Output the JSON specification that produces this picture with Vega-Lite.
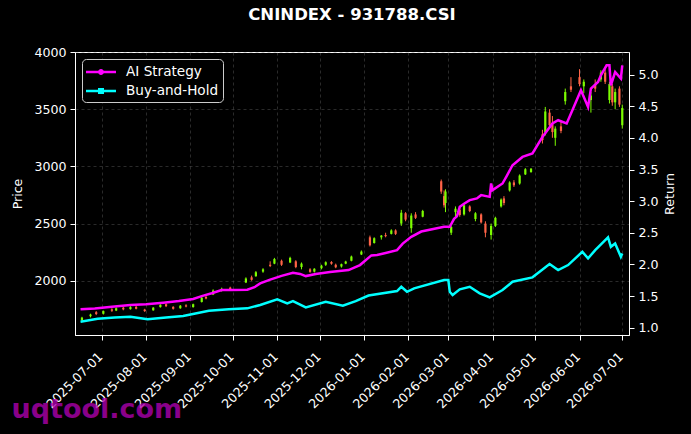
{
  "$schema": "https://vega.github.io/schema/vega-lite/v6.json",
  "width": 554,
  "height": 283,
  "autosize": "none",
  "padding": {"left": 75, "top": 52, "right": 62, "bottom": 99},
  "background": "#000000",
  "title": {
    "text": "CNINDEX - 931788.CSI",
    "color": "white",
    "font": "DejaVu Sans",
    "fontSize": 16.5,
    "fontWeight": "bold",
    "offset": 23
  },
  "config": {
    "font": "DejaVu Sans",
    "view": {"stroke": "white", "strokeWidth": 1},
    "axis": {
      "domainColor": "white",
      "tickColor": "white",
      "tickSize": 5,
      "labelColor": "white",
      "labelFontSize": 12.6,
      "labelPadding": 4,
      "titleColor": "white",
      "titleFontSize": 12.6,
      "titleFontWeight": "normal",
      "gridColor": "#808080",
      "gridOpacity": 0.55,
      "gridDash": [3, 3],
      "gridWidth": 0.6
    }
  },
  "datasets": {
    "ohlc": [
      {"date": "2025-06-17", "open": 1655, "high": 1685, "low": 1645, "close": 1678},
      {"date": "2025-06-23", "open": 1690, "high": 1712, "low": 1680, "close": 1705},
      {"date": "2025-06-27", "open": 1725, "high": 1735, "low": 1700, "close": 1710},
      {"date": "2025-07-02", "open": 1712, "high": 1740, "low": 1705, "close": 1735},
      {"date": "2025-07-08", "open": 1750, "high": 1760, "low": 1728, "close": 1738},
      {"date": "2025-07-11", "open": 1740, "high": 1768, "low": 1735, "close": 1760},
      {"date": "2025-07-16", "open": 1765, "high": 1772, "low": 1742, "close": 1750},
      {"date": "2025-07-21", "open": 1752, "high": 1778, "low": 1748, "close": 1770},
      {"date": "2025-07-25", "open": 1772, "high": 1780, "low": 1750, "close": 1755},
      {"date": "2025-07-31", "open": 1748, "high": 1755, "low": 1728, "close": 1735},
      {"date": "2025-08-06", "open": 1742, "high": 1770, "low": 1738, "close": 1765},
      {"date": "2025-08-11", "open": 1770, "high": 1795, "low": 1765, "close": 1790},
      {"date": "2025-08-15", "open": 1795, "high": 1802, "low": 1770, "close": 1778},
      {"date": "2025-08-20", "open": 1772, "high": 1778, "low": 1748, "close": 1755},
      {"date": "2025-08-25", "open": 1760, "high": 1788, "low": 1755, "close": 1782},
      {"date": "2025-08-29", "open": 1785, "high": 1795, "low": 1768, "close": 1775},
      {"date": "2025-09-03", "open": 1770, "high": 1800, "low": 1765, "close": 1795},
      {"date": "2025-09-09", "open": 1815, "high": 1860, "low": 1810, "close": 1852},
      {"date": "2025-09-12", "open": 1858, "high": 1870, "low": 1838, "close": 1845},
      {"date": "2025-09-17", "open": 1880, "high": 1925, "low": 1875, "close": 1915},
      {"date": "2025-09-23", "open": 1918, "high": 1940, "low": 1905, "close": 1930},
      {"date": "2025-09-29", "open": 1940, "high": 1948, "low": 1918, "close": 1925},
      {"date": "2025-10-10", "open": 1985, "high": 2030, "low": 1980, "close": 2020},
      {"date": "2025-10-14", "open": 2030, "high": 2045, "low": 2000, "close": 2008},
      {"date": "2025-10-17", "open": 2040, "high": 2085, "low": 2035, "close": 2075},
      {"date": "2025-10-22", "open": 2080, "high": 2110, "low": 2070, "close": 2100},
      {"date": "2025-10-27", "open": 2140, "high": 2170, "low": 2120, "close": 2130},
      {"date": "2025-10-30", "open": 2150, "high": 2200, "low": 2145, "close": 2190},
      {"date": "2025-11-04", "open": 2175, "high": 2185, "low": 2130, "close": 2140},
      {"date": "2025-11-10", "open": 2160, "high": 2210, "low": 2155, "close": 2200},
      {"date": "2025-11-14", "open": 2170, "high": 2180, "low": 2110, "close": 2120},
      {"date": "2025-11-18", "open": 2120, "high": 2160, "low": 2100, "close": 2150},
      {"date": "2025-11-24", "open": 2100, "high": 2110, "low": 2070, "close": 2078},
      {"date": "2025-11-27", "open": 2080, "high": 2110, "low": 2072, "close": 2105},
      {"date": "2025-12-02", "open": 2110, "high": 2140, "low": 2100, "close": 2132},
      {"date": "2025-12-05", "open": 2140, "high": 2170, "low": 2130, "close": 2162},
      {"date": "2025-12-09", "open": 2165, "high": 2172, "low": 2140, "close": 2148},
      {"date": "2025-12-12", "open": 2140, "high": 2150, "low": 2110, "close": 2118},
      {"date": "2025-12-16", "open": 2125, "high": 2150, "low": 2115, "close": 2145},
      {"date": "2025-12-19", "open": 2150, "high": 2175, "low": 2145, "close": 2168},
      {"date": "2025-12-23", "open": 2175, "high": 2220, "low": 2170, "close": 2212},
      {"date": "2025-12-30", "open": 2230, "high": 2265, "low": 2225, "close": 2255},
      {"date": "2026-01-05", "open": 2380, "high": 2395, "low": 2300, "close": 2310},
      {"date": "2026-01-08", "open": 2330, "high": 2380, "low": 2325, "close": 2372},
      {"date": "2026-01-13", "open": 2380, "high": 2400, "low": 2360, "close": 2395},
      {"date": "2026-01-16", "open": 2400, "high": 2420, "low": 2380, "close": 2390},
      {"date": "2026-01-20", "open": 2410, "high": 2450, "low": 2405, "close": 2440},
      {"date": "2026-01-23", "open": 2440, "high": 2450, "low": 2400, "close": 2410},
      {"date": "2026-01-27", "open": 2500, "high": 2620, "low": 2480, "close": 2595},
      {"date": "2026-01-30", "open": 2590, "high": 2600, "low": 2520, "close": 2535},
      {"date": "2026-02-03", "open": 2460, "high": 2590, "low": 2420, "close": 2570},
      {"date": "2026-02-06", "open": 2580, "high": 2600, "low": 2540, "close": 2550},
      {"date": "2026-02-11", "open": 2560, "high": 2620, "low": 2555, "close": 2610},
      {"date": "2026-02-24", "open": 2870, "high": 2885, "low": 2760, "close": 2780},
      {"date": "2026-02-26", "open": 2740, "high": 2790, "low": 2640, "close": 2660},
      {"date": "2026-02-27", "open": 2680, "high": 2800, "low": 2600, "close": 2780},
      {"date": "2026-03-03", "open": 2420, "high": 2480, "low": 2400, "close": 2470},
      {"date": "2026-03-06", "open": 2600, "high": 2650, "low": 2560, "close": 2630},
      {"date": "2026-03-09", "open": 2620, "high": 2640, "low": 2560, "close": 2575},
      {"date": "2026-03-12", "open": 2580, "high": 2680, "low": 2570, "close": 2660},
      {"date": "2026-03-16", "open": 2650, "high": 2660, "low": 2600, "close": 2610},
      {"date": "2026-03-20", "open": 2540, "high": 2600, "low": 2520, "close": 2590},
      {"date": "2026-03-24", "open": 2580, "high": 2590, "low": 2500, "close": 2510},
      {"date": "2026-03-27", "open": 2500, "high": 2520, "low": 2380, "close": 2420},
      {"date": "2026-03-31", "open": 2400, "high": 2500, "low": 2360, "close": 2480},
      {"date": "2026-04-03", "open": 2480, "high": 2560, "low": 2470, "close": 2550},
      {"date": "2026-04-07", "open": 2650, "high": 2720, "low": 2640, "close": 2710},
      {"date": "2026-04-09", "open": 2720, "high": 2740, "low": 2660, "close": 2680},
      {"date": "2026-04-13", "open": 2790, "high": 2870, "low": 2780, "close": 2860},
      {"date": "2026-04-16", "open": 2860, "high": 2880, "low": 2820, "close": 2835},
      {"date": "2026-04-20", "open": 2850, "high": 2930, "low": 2840, "close": 2920},
      {"date": "2026-04-24", "open": 2930, "high": 2985, "low": 2925, "close": 2975},
      {"date": "2026-04-28", "open": 2950, "high": 2985, "low": 2945, "close": 2980},
      {"date": "2026-05-06", "open": 3280, "high": 3320, "low": 3200, "close": 3230},
      {"date": "2026-05-08", "open": 3300, "high": 3520, "low": 3270, "close": 3480},
      {"date": "2026-05-11", "open": 3470, "high": 3500, "low": 3330, "close": 3360},
      {"date": "2026-05-13", "open": 3380, "high": 3440, "low": 3250, "close": 3300},
      {"date": "2026-05-15", "open": 3250, "high": 3350, "low": 3180, "close": 3330},
      {"date": "2026-05-19", "open": 3350, "high": 3400, "low": 3290, "close": 3310},
      {"date": "2026-05-22", "open": 3570, "high": 3680, "low": 3540, "close": 3650},
      {"date": "2026-05-26", "open": 3700, "high": 3780, "low": 3650, "close": 3670},
      {"date": "2026-06-01", "open": 3780, "high": 3850, "low": 3700, "close": 3720},
      {"date": "2026-06-04", "open": 3700, "high": 3760, "low": 3640, "close": 3740},
      {"date": "2026-06-09", "open": 3580, "high": 3650, "low": 3470, "close": 3620},
      {"date": "2026-06-12", "open": 3720, "high": 3760, "low": 3650, "close": 3680},
      {"date": "2026-06-16", "open": 3760, "high": 3840, "low": 3740, "close": 3820},
      {"date": "2026-06-19", "open": 3820, "high": 3850, "low": 3720, "close": 3740},
      {"date": "2026-06-22", "open": 3580, "high": 3740, "low": 3550, "close": 3720},
      {"date": "2026-06-24", "open": 3700, "high": 3720, "low": 3530, "close": 3560},
      {"date": "2026-06-26", "open": 3560, "high": 3680, "low": 3500, "close": 3650},
      {"date": "2026-06-29", "open": 3680, "high": 3700, "low": 3520, "close": 3540},
      {"date": "2026-07-01", "open": 3360, "high": 3540, "low": 3330, "close": 3510}
    ],
    "perf": [
      {"date": "2025-06-16", "series": "AI Strategy", "ret": 1.290},
      {"date": "2025-06-26", "series": "AI Strategy", "ret": 1.305},
      {"date": "2025-07-08", "series": "AI Strategy", "ret": 1.330},
      {"date": "2025-07-21", "series": "AI Strategy", "ret": 1.358},
      {"date": "2025-08-01", "series": "AI Strategy", "ret": 1.372},
      {"date": "2025-08-13", "series": "AI Strategy", "ret": 1.395},
      {"date": "2025-08-24", "series": "AI Strategy", "ret": 1.421},
      {"date": "2025-09-03", "series": "AI Strategy", "ret": 1.455},
      {"date": "2025-09-09", "series": "AI Strategy", "ret": 1.500},
      {"date": "2025-09-16", "series": "AI Strategy", "ret": 1.545},
      {"date": "2025-09-23", "series": "AI Strategy", "ret": 1.595},
      {"date": "2025-09-30", "series": "AI Strategy", "ret": 1.598},
      {"date": "2025-10-11", "series": "AI Strategy", "ret": 1.600},
      {"date": "2025-10-16", "series": "AI Strategy", "ret": 1.640},
      {"date": "2025-10-20", "series": "AI Strategy", "ret": 1.701},
      {"date": "2025-10-27", "series": "AI Strategy", "ret": 1.760},
      {"date": "2025-11-04", "series": "AI Strategy", "ret": 1.820},
      {"date": "2025-11-12", "series": "AI Strategy", "ret": 1.868},
      {"date": "2025-11-17", "series": "AI Strategy", "ret": 1.850},
      {"date": "2025-11-21", "series": "AI Strategy", "ret": 1.816},
      {"date": "2025-11-28", "series": "AI Strategy", "ret": 1.850},
      {"date": "2025-12-08", "series": "AI Strategy", "ret": 1.880},
      {"date": "2025-12-21", "series": "AI Strategy", "ret": 1.911},
      {"date": "2025-12-29", "series": "AI Strategy", "ret": 1.990},
      {"date": "2026-01-06", "series": "AI Strategy", "ret": 2.143},
      {"date": "2026-01-10", "series": "AI Strategy", "ret": 2.148},
      {"date": "2026-01-16", "series": "AI Strategy", "ret": 2.180},
      {"date": "2026-01-24", "series": "AI Strategy", "ret": 2.226},
      {"date": "2026-01-28", "series": "AI Strategy", "ret": 2.330},
      {"date": "2026-02-03", "series": "AI Strategy", "ret": 2.436},
      {"date": "2026-02-10", "series": "AI Strategy", "ret": 2.520},
      {"date": "2026-02-26", "series": "AI Strategy", "ret": 2.594},
      {"date": "2026-03-02", "series": "AI Strategy", "ret": 2.594},
      {"date": "2026-03-05", "series": "AI Strategy", "ret": 2.720},
      {"date": "2026-03-07", "series": "AI Strategy", "ret": 2.760},
      {"date": "2026-03-09", "series": "AI Strategy", "ret": 2.910},
      {"date": "2026-03-12", "series": "AI Strategy", "ret": 2.960},
      {"date": "2026-03-16", "series": "AI Strategy", "ret": 3.016},
      {"date": "2026-03-21", "series": "AI Strategy", "ret": 3.043},
      {"date": "2026-03-24", "series": "AI Strategy", "ret": 3.095},
      {"date": "2026-03-30", "series": "AI Strategy", "ret": 3.068},
      {"date": "2026-03-31", "series": "AI Strategy", "ret": 3.279},
      {"date": "2026-04-01", "series": "AI Strategy", "ret": 3.174},
      {"date": "2026-04-08", "series": "AI Strategy", "ret": 3.279},
      {"date": "2026-04-11", "series": "AI Strategy", "ret": 3.400},
      {"date": "2026-04-15", "series": "AI Strategy", "ret": 3.568},
      {"date": "2026-04-22", "series": "AI Strategy", "ret": 3.699},
      {"date": "2026-04-29", "series": "AI Strategy", "ret": 3.753},
      {"date": "2026-05-06", "series": "AI Strategy", "ret": 4.015},
      {"date": "2026-05-13", "series": "AI Strategy", "ret": 4.227},
      {"date": "2026-05-17", "series": "AI Strategy", "ret": 4.279},
      {"date": "2026-05-23", "series": "AI Strategy", "ret": 4.227},
      {"date": "2026-05-27", "series": "AI Strategy", "ret": 4.437},
      {"date": "2026-06-02", "series": "AI Strategy", "ret": 4.752},
      {"date": "2026-06-07", "series": "AI Strategy", "ret": 4.489},
      {"date": "2026-06-09", "series": "AI Strategy", "ret": 4.779},
      {"date": "2026-06-14", "series": "AI Strategy", "ret": 4.883},
      {"date": "2026-06-16", "series": "AI Strategy", "ret": 4.989},
      {"date": "2026-06-20", "series": "AI Strategy", "ret": 5.147},
      {"date": "2026-06-22", "series": "AI Strategy", "ret": 5.147},
      {"date": "2026-06-23", "series": "AI Strategy", "ret": 4.831},
      {"date": "2026-06-26", "series": "AI Strategy", "ret": 5.041},
      {"date": "2026-06-30", "series": "AI Strategy", "ret": 4.937},
      {"date": "2026-07-01", "series": "AI Strategy", "ret": 5.147},
      {"date": "2025-06-16", "series": "Buy-and-Hold", "ret": 1.095},
      {"date": "2025-06-28", "series": "Buy-and-Hold", "ret": 1.140},
      {"date": "2025-07-10", "series": "Buy-and-Hold", "ret": 1.160},
      {"date": "2025-07-21", "series": "Buy-and-Hold", "ret": 1.174},
      {"date": "2025-08-02", "series": "Buy-and-Hold", "ret": 1.133},
      {"date": "2025-08-15", "series": "Buy-and-Hold", "ret": 1.160},
      {"date": "2025-08-27", "series": "Buy-and-Hold", "ret": 1.185},
      {"date": "2025-09-14", "series": "Buy-and-Hold", "ret": 1.268},
      {"date": "2025-09-28", "series": "Buy-and-Hold", "ret": 1.290},
      {"date": "2025-10-11", "series": "Buy-and-Hold", "ret": 1.306},
      {"date": "2025-10-20", "series": "Buy-and-Hold", "ret": 1.360},
      {"date": "2025-11-01", "series": "Buy-and-Hold", "ret": 1.448},
      {"date": "2025-11-08", "series": "Buy-and-Hold", "ret": 1.385},
      {"date": "2025-11-12", "series": "Buy-and-Hold", "ret": 1.421},
      {"date": "2025-11-21", "series": "Buy-and-Hold", "ret": 1.322},
      {"date": "2025-12-05", "series": "Buy-and-Hold", "ret": 1.410},
      {"date": "2025-12-17", "series": "Buy-and-Hold", "ret": 1.347},
      {"date": "2025-12-26", "series": "Buy-and-Hold", "ret": 1.420},
      {"date": "2026-01-04", "series": "Buy-and-Hold", "ret": 1.508},
      {"date": "2026-01-24", "series": "Buy-and-Hold", "ret": 1.579},
      {"date": "2026-01-27", "series": "Buy-and-Hold", "ret": 1.647},
      {"date": "2026-01-31", "series": "Buy-and-Hold", "ret": 1.568},
      {"date": "2026-02-05", "series": "Buy-and-Hold", "ret": 1.622},
      {"date": "2026-02-26", "series": "Buy-and-Hold", "ret": 1.753},
      {"date": "2026-03-01", "series": "Buy-and-Hold", "ret": 1.753},
      {"date": "2026-03-02", "series": "Buy-and-Hold", "ret": 1.568},
      {"date": "2026-03-04", "series": "Buy-and-Hold", "ret": 1.516},
      {"date": "2026-03-09", "series": "Buy-and-Hold", "ret": 1.606},
      {"date": "2026-03-16", "series": "Buy-and-Hold", "ret": 1.647},
      {"date": "2026-03-23", "series": "Buy-and-Hold", "ret": 1.543},
      {"date": "2026-03-30", "series": "Buy-and-Hold", "ret": 1.480},
      {"date": "2026-04-08", "series": "Buy-and-Hold", "ret": 1.595},
      {"date": "2026-04-15", "series": "Buy-and-Hold", "ret": 1.726},
      {"date": "2026-04-29", "series": "Buy-and-Hold", "ret": 1.796},
      {"date": "2026-05-11", "series": "Buy-and-Hold", "ret": 2.006},
      {"date": "2026-05-17", "series": "Buy-and-Hold", "ret": 1.911},
      {"date": "2026-05-24", "series": "Buy-and-Hold", "ret": 1.990},
      {"date": "2026-06-03", "series": "Buy-and-Hold", "ret": 2.200},
      {"date": "2026-06-07", "series": "Buy-and-Hold", "ret": 2.095},
      {"date": "2026-06-12", "series": "Buy-and-Hold", "ret": 2.227},
      {"date": "2026-06-21", "series": "Buy-and-Hold", "ret": 2.427},
      {"date": "2026-06-23", "series": "Buy-and-Hold", "ret": 2.279},
      {"date": "2026-06-26", "series": "Buy-and-Hold", "ret": 2.332},
      {"date": "2026-06-30", "series": "Buy-and-Hold", "ret": 2.121},
      {"date": "2026-07-01", "series": "Buy-and-Hold", "ret": 2.174}
    ]
  },
  "layer": [
    {
      "data": {"name": "ohlc"},
      "encoding": {
        "x": {
          "field": "date",
          "type": "temporal",
          "scale": {
            "type": "utc",
            "domain": [
              {"year": 2025, "month": 6, "date": 15, "hours": 15, "utc": true},
              {"year": 2026, "month": 7, "date": 2, "hours": 5, "utc": true}
            ]
          },
          "axis": {
            "format": "%Y-%m-%d",
            "tickCount": {"interval": "month", "step": 1},
            "labelAngle": -45,
            "labelAlign": "right",
            "labelBaseline": "top",
            "labelOffset": -6,
            "labelPadding": 10,
            "labelOverlap": false,
            "labelFlush": false,
            "grid": true,
            "title": "uqtool.com",
            "titleFont": "DejaVu Sans",
            "titleFontSize": 27,
            "titleFontWeight": "bold",
            "titleColor": "#b000b0",
            "titleOpacity": 0.78,
            "titleAnchor": "start",
            "titleAlign": "left",
            "titleBaseline": "alphabetic",
            "titleX": -64,
            "titleY": 82
          }
        },
        "y": {
          "type": "quantitative",
          "scale": {"domain": [1526, 4000], "nice": false, "zero": false},
          "axis": {
            "title": "Price",
            "values": [2000, 2500, 3000, 3500, 4000],
            "format": "d",
            "grid": true,
            "titlePadding": 9
          }
        },
        "color": {
          "condition": {"test": "datum.close >= datum.open", "value": "#7cfc00"},
          "value": "#ff6347"
        }
      },
      "layer": [
        {
          "mark": {"type": "rule", "strokeWidth": 1},
          "encoding": {
            "y": {"field": "low", "type": "quantitative"},
            "y2": {"field": "high"}
          }
        },
        {
          "mark": {"type": "bar", "size": 2.2},
          "encoding": {
            "y": {"field": "open", "type": "quantitative"},
            "y2": {"field": "close"}
          }
        }
      ]
    },
    {
      "data": {"name": "perf"},
      "mark": {"type": "line", "strokeWidth": 2.5},
      "encoding": {
        "x": {"field": "date", "type": "temporal"},
        "y": {
          "field": "ret",
          "type": "quantitative",
          "scale": {"domain": [0.885, 5.357], "nice": false, "zero": false},
          "axis": {
            "orient": "right",
            "title": "Return",
            "values": [1, 1.5, 2, 2.5, 3, 3.5, 4, 4.5, 5],
            "format": ".1f",
            "grid": false,
            "titleAngle": 270,
            "titleBaseline": "top",
            "titlePadding": 5
          }
        },
        "color": {
          "field": "series",
          "type": "nominal",
          "scale": {
            "domain": ["AI Strategy", "Buy-and-Hold"],
            "range": ["#ff00ff", "#00ffff"]
          },
          "legend": {
            "title": null,
            "orient": "top-left",
            "offset": 7,
            "padding": 4,
            "rowPadding": 3,
            "fillColor": "#000000",
            "strokeColor": "#cccccc",
            "cornerRadius": 4,
            "labelColor": "white",
            "labelFont": "DejaVu Sans",
            "labelFontSize": 13.6,
            "labelOffset": 22,
            "symbolSize": 324,
            "symbolStrokeWidth": 0,
            "encode": {
              "symbols": {
                "update": {
                  "shape": [
                    {"test": "datum.value === 'AI Strategy'", "value": "M-1,-0.14H2.333V0.14H-1Z M0.334,0A0.333,0.333,0,1,1,1,0A0.333,0.333,0,1,1,0.334,0Z"},
                    {"value": "M-1,-0.14H2.333V0.14H-1Z M0.334,-0.333H1V0.333H0.334Z"}
                  ],
                  "fill": {"scale": "color", "field": "value"},
                  "strokeWidth": {"value": 0}
                }
              }
            }
          }
        }
      }
    }
  ],
  "resolve": {"scale": {"y": "independent"}}
}
